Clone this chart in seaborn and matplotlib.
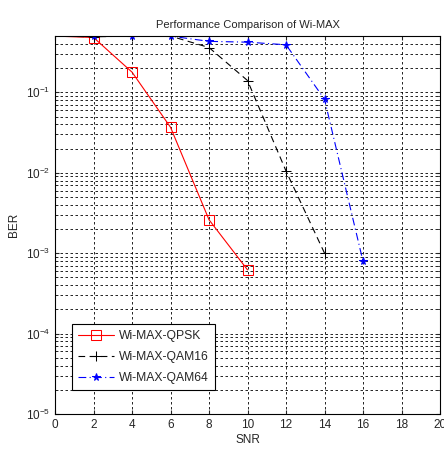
import numpy as np
import pandas as pd
import matplotlib
matplotlib.use("Agg")
import matplotlib.pyplot as plt
from matplotlib.ticker import LogLocator, NullFormatter
import seaborn as sns

snr_qpsk = [0, 2, 4, 6, 8, 10]
ber_qpsk = [0.5, 0.48, 0.178, 0.0367, 0.0026, 0.00062]
snr_qam16 = [0, 2, 4, 6, 8, 10, 12, 14]
ber_qam16 = [0.5, 0.49, 0.5, 0.5, 0.36, 0.14, 0.0105, 0.001]
snr_qam64 = [0, 2, 4, 6, 8, 10, 12, 14, 16]
ber_qam64 = [0.5, 0.5, 0.5, 0.5, 0.43, 0.42, 0.39, 0.082, 0.00079]
names = ["Wi-MAX-QPSK", "Wi-MAX-QAM16", "Wi-MAX-QAM64"]
xticks = list(range(0, 21, 2))

sns.set_style("white")
plt.rcParams['font.family'] = ['Liberation Sans', 'DejaVu Sans']

fig = plt.figure(figsize=(4.44, 4.51), dpi=100)
ax = fig.add_axes([0.124, 0.082, 0.867, 0.838])

styles = [
    dict(color="red", linestyle="-", marker="s", markersize=7, markerfacecolor="none",
         markeredgecolor="red", linewidth=0.8),
    dict(color="black", linestyle=(0, (6, 4)), marker="+", markersize=7,
         markeredgecolor="black", linewidth=0.8),
    dict(color="blue", linestyle=(0, (7, 3, 1, 3)), marker="*", markersize=5.5,
         markeredgecolor="blue", markerfacecolor="blue", linewidth=0.8),
]
data = [(snr_qpsk, ber_qpsk), (snr_qam16, ber_qam16), (snr_qam64, ber_qam64)]
for (x, y), name, st in zip(data, names, styles):
    df = pd.DataFrame({"SNR": x, "BER": y})
    sns.lineplot(data=df, x="SNR", y="BER", ax=ax, label=name,
                 markevery=list(range(1, len(x))), clip_on=True, **st)

ax.set_yscale("log")
ax.set_xlim(0, 20)
ax.set_ylim(1e-5, 0.5)
ax.set_xticks(xticks)
ax.set_xticklabels([str(t) for t in xticks])
ax.yaxis.set_major_locator(LogLocator(base=10, numticks=10))
ax.yaxis.set_minor_locator(LogLocator(base=10, subs=np.arange(2, 10), numticks=10))
ax.yaxis.set_minor_formatter(NullFormatter())
ax.grid(True, which="major", axis="both", color="black", linestyle=(0, (3, 3)), linewidth=0.6)
ax.grid(True, which="minor", axis="y", color="black", linestyle=(0, (3, 3)), linewidth=0.6)
ax.tick_params(axis="both", which="both", direction="in", labelsize=8.5, length=3,
               top=True, right=True, bottom=True, left=True)
ax.tick_params(axis="both", which="minor", length=2)
for s in ax.spines.values():
    s.set_color("black")
    s.set_linewidth(0.8)
ax.set_xlabel("SNR", fontsize=8.5, labelpad=2)
ax.set_ylabel("BER", fontsize=8.5, labelpad=4)
ax.set_title("Performance Comparison of Wi-MAX", fontsize=8, pad=6)
leg = ax.legend(loc="lower left", bbox_to_anchor=(0.044, 0.063), borderaxespad=0,
                fontsize=8.7, frameon=True, fancybox=False, edgecolor="black",
                framealpha=1, borderpad=0.5, handlelength=3, handletextpad=0.4,
                labelspacing=0.75)
leg.get_frame().set_linewidth(0.8)

fig.savefig("out.png", dpi=100)
